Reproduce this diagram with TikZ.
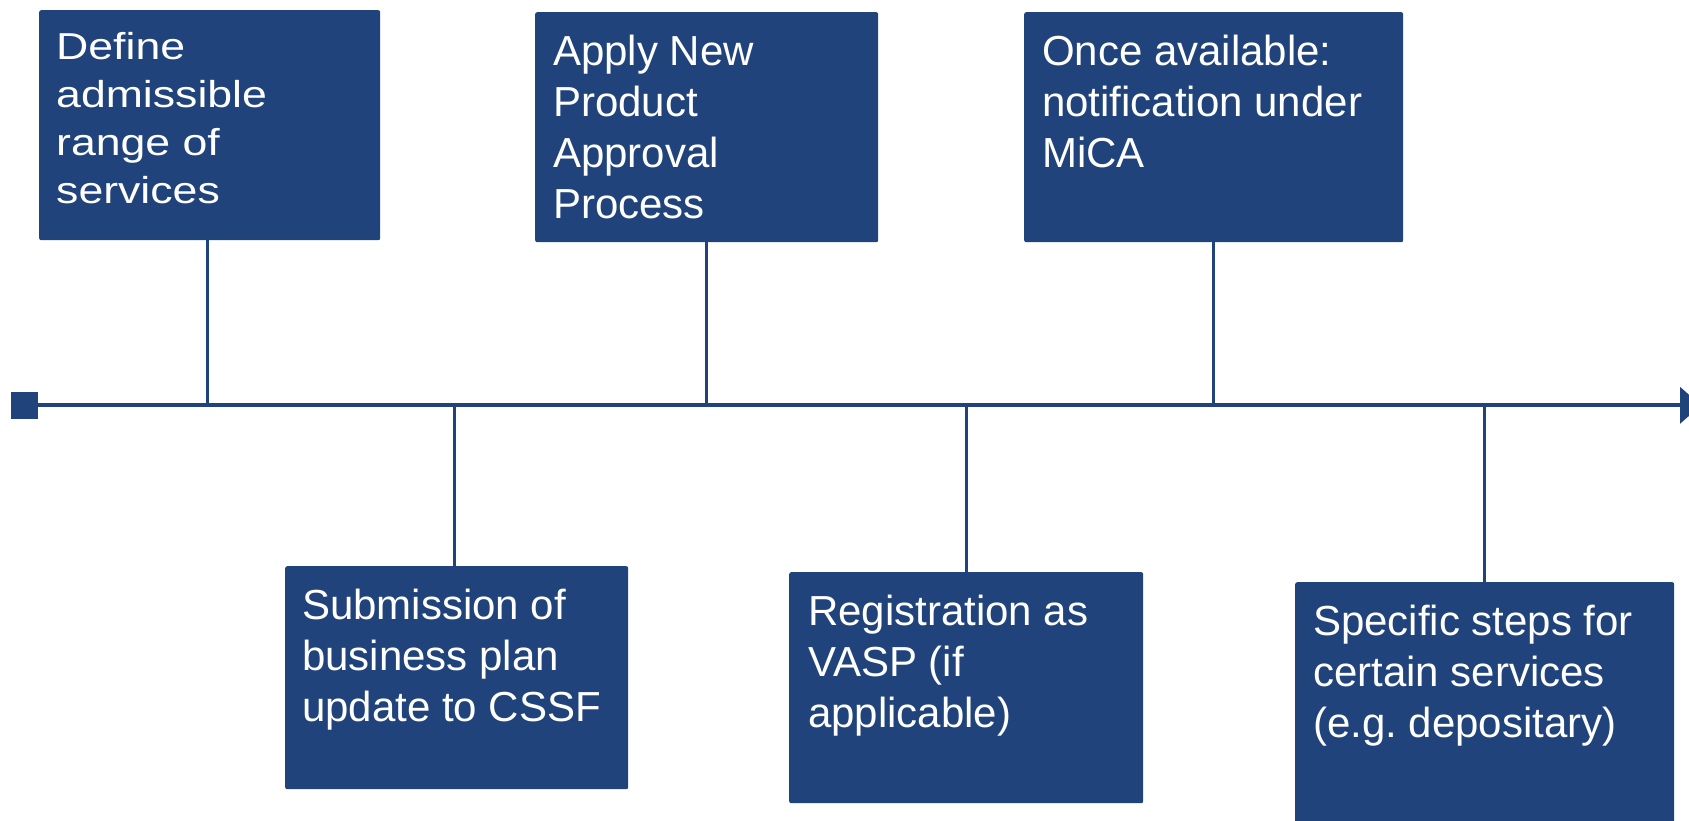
\documentclass[tikz,border=0pt]{standalone}
\usepackage{fontspec}
\setmainfont{Liberation Sans}
\newfontfamily\wideface[FakeStretch=1.19]{Liberation Sans}
\usetikzlibrary{arrows.meta,positioning}
\definecolor{navy}{RGB}{33,67,123}

\begin{document}
\begin{tikzpicture}[
  x=1pt,y=1pt,
  box/.style={fill=navy,rounded corners=2pt,anchor=north west,inner sep=0pt},
  boxtext/.style={text=white,align=left,inner sep=0pt,font=\fontsize{42}{51}\selectfont},
  stem/.style={draw=navy,line width=3.3pt},
  timeline/.style={draw=navy,line width=4pt,-{Triangle[length=21pt,width=36pt]}}
]
\useasboundingbox (0,0) rectangle (1689,-820);

% boxes above the line
\node[box,minimum width=341,minimum height=230] (define) at (39,-10) {};
\node[boxtext,font=\wideface\fontsize{37.5}{48}\selectfont,below right=22.5pt and 17pt of define.north west] (definetxt) {Define\\admissible\\range of\\services};
\node[box,minimum width=343,minimum height=230] (approval) at (535,-12) {};
\node[boxtext,below right=22.5pt and 18pt of approval.north west] (approvaltxt) {Apply New\\Product\\Approval\\Process};
\node[box,minimum width=379,minimum height=230] (mica) at (1024,-12) {};
\node[boxtext,below right=22.5pt and 18pt of mica.north west] (micatxt) {Once available:\\notification under\\MiCA};

% boxes below the line
\node[box,minimum width=343,minimum height=223] (plan) at (285,-566) {};
\node[boxtext,below right=22.5pt and 17pt of plan.north west] (plantxt) {Submission of\\business plan\\update to CSSF};
\node[box,minimum width=354,minimum height=231] (vasp) at (789,-572) {};
\node[boxtext,below right=22.5pt and 19pt of vasp.north west] (vasptxt) {Registration as\\VASP (if\\applicable)};
\node[box,minimum width=379,minimum height=260] (steps) at (1295,-582) {};
\node[boxtext,below right=22.5pt and 18pt of steps.north west] (stepstxt) {Specific steps for\\certain services\\(e.g.\ depositary)};

% time line
\node[fill=navy,minimum size=27pt,inner sep=0pt] (start) at (24.3,-405.3) {};
\coordinate (end) at (1701,-405.3);
\draw[timeline] (start) -- (end);

% stems
\draw[stem] ([xshift=-2.3pt]define.south) -- ([xshift=-2.3pt]define.south |- start);
\draw[stem] (approval.south) -- (approval.south |- start);
\draw[stem] (mica.south) -- (mica.south |- start);
\draw[stem] ([xshift=-2.3pt]plan.north) -- ([xshift=-2.3pt]plan.north |- start);
\draw[stem] (vasp.north) -- (vasp.north |- start);
\draw[stem] (steps.north) -- (steps.north |- start);
\end{tikzpicture}
\end{document}
